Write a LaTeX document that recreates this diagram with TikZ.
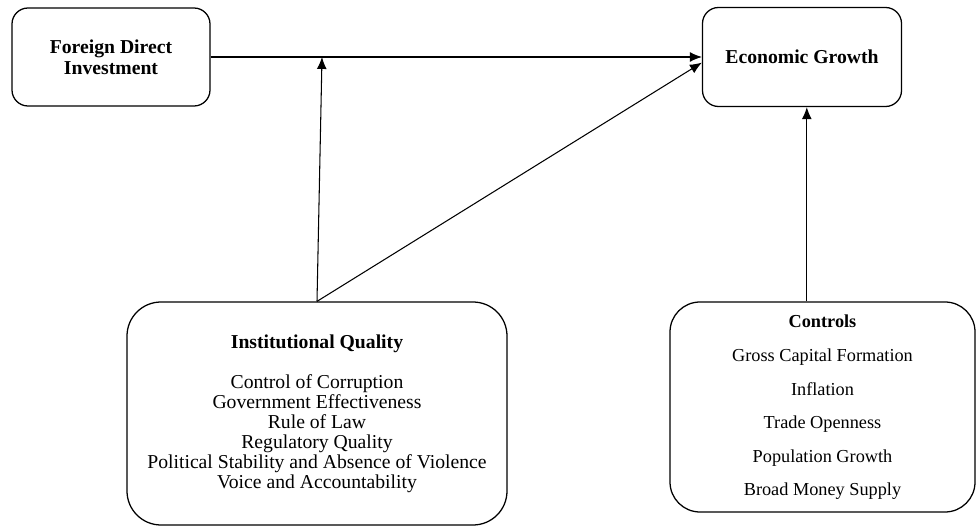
\documentclass[tikz,border=0pt]{standalone}
\usepackage{fontspec}
\setmainfont{Liberation Serif}
\usetikzlibrary{positioning, arrows.meta}

\begin{document}
\begin{tikzpicture}[node distance=2.5cm, on grid,
    >={Latex[length=8.5pt,width=7pt]},
    box/.style={draw, line width=0.9pt, rounded corners=0.4cm, align=center,
      font=\fontsize{14}{14.9}\selectfont\bfseries},
    link/.style={->, line width=0.75pt}]
      \useasboundingbox (0,0) rectangle (24.4,-13.175);
      \node[box, minimum width=4.95cm, minimum height=2.45cm] (fdi) at (2.775,-1.425) {Foreign Direct\\Investment};
      \node[box, minimum width=4.975cm, minimum height=2.475cm, right=17.275cm of fdi] (eg) {Economic Growth};
      \node[box, font=\fontsize{14}{14.2}\selectfont, rounded corners=0.85cm,
        minimum width=9.5cm, minimum height=5.575cm, below right=8.9125cm and 5.15cm of fdi] (iq)
        {\textbf{Institutional Quality}\\[0.5cm]
         Control of Corruption\\Government Effectiveness\\Rule of Law\\Regulatory Quality\\
         Political Stability and Absence of Violence\\Voice and Accountability};
      \node[box, font=\fontsize{13}{23.8}\selectfont, rounded corners=0.75cm,
        minimum width=7.625cm, minimum height=5.25cm, below right=8.75cm and 0.5125cm of eg] (ctrl)
        {\textbf{Controls}\\[1pt]
         Gross Capital Formation\\Inflation\\Trade Openness\\Population Growth\\Broad Money Supply};
      \coordinate (mod) at (8.05,-1.425);
      \path[link]
        (fdi) edge (eg)
        (iq.north) edge (mod)
        (iq.north) edge ([yshift=-0.14cm]eg.west)
        ([xshift=0.12cm]eg.south |- ctrl.north) edge ([xshift=0.12cm]eg.south);
    \end{tikzpicture}
\end{document}
